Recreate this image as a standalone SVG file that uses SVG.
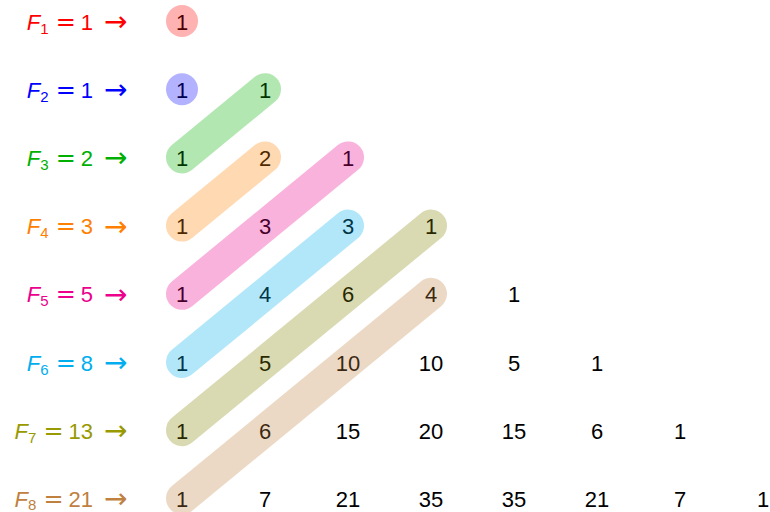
<svg xmlns="http://www.w3.org/2000/svg" width="770" height="512" viewBox="0 0 770 512">
<style>
.n{font-family:"Liberation Sans",Arial,sans-serif;font-size:22px;text-anchor:middle;fill:#000}
.lb{font-family:"Liberation Sans",Arial,sans-serif;font-size:22px;text-anchor:end}
.F{font-style:italic}
.s{font-size:15px;font-style:normal}
.eq{font-family:"DejaVu Sans",sans-serif;font-size:24px}
.ar{font-family:"DejaVu Sans",sans-serif;font-size:28px}
.pill{fill:none;stroke-width:32;stroke-linecap:round;stroke-opacity:0.3}
.dot{fill-opacity:0.3}
</style>
<rect width="770" height="512" fill="#fff"/>
<g id="labels">
<g id="label1" fill="#FF0000"><text class="lb" x="93" y="29.5"><tspan class="F">F</tspan><tspan class="s" dy="4">1</tspan><tspan class="eq" dy="-4" dx="7">=</tspan><tspan dx="5">1</tspan></text><text class="ar" x="104" y="31">→</text></g>
<g id="label2" fill="#0000FF"><text class="lb" x="93" y="97.7"><tspan class="F">F</tspan><tspan class="s" dy="4">2</tspan><tspan class="eq" dy="-4" dx="7">=</tspan><tspan dx="5">1</tspan></text><text class="ar" x="104" y="99.2">→</text></g>
<g id="label3" fill="#00B000"><text class="lb" x="93" y="165.9"><tspan class="F">F</tspan><tspan class="s" dy="4">3</tspan><tspan class="eq" dy="-4" dx="7">=</tspan><tspan dx="5">2</tspan></text><text class="ar" x="104" y="167.4">→</text></g>
<g id="label4" fill="#FF8000"><text class="lb" x="93" y="234.1"><tspan class="F">F</tspan><tspan class="s" dy="4">4</tspan><tspan class="eq" dy="-4" dx="7">=</tspan><tspan dx="5">3</tspan></text><text class="ar" x="104" y="235.6">→</text></g>
<g id="label5" fill="#EC008C"><text class="lb" x="93" y="302.3"><tspan class="F">F</tspan><tspan class="s" dy="4">5</tspan><tspan class="eq" dy="-4" dx="7">=</tspan><tspan dx="5">5</tspan></text><text class="ar" x="104" y="303.8">→</text></g>
<g id="label6" fill="#00AEEF"><text class="lb" x="93" y="370.5"><tspan class="F">F</tspan><tspan class="s" dy="4">6</tspan><tspan class="eq" dy="-4" dx="7">=</tspan><tspan dx="5">8</tspan></text><text class="ar" x="104" y="372">→</text></g>
<g id="label7" fill="#999900"><text class="lb" x="93" y="438.7"><tspan class="F">F</tspan><tspan class="s" dy="4">7</tspan><tspan class="eq" dy="-4" dx="7">=</tspan><tspan dx="5">13</tspan></text><text class="ar" x="104" y="440.2">→</text></g>
<g id="label8" fill="#BF8040"><text class="lb" x="93" y="506.9"><tspan class="F">F</tspan><tspan class="s" dy="3">8</tspan><tspan class="eq" dy="-3" dx="7">=</tspan><tspan dx="5">21</tspan></text><text class="ar" x="104" y="508.4">→</text></g>
</g>
<g id="triangle">
<g id="row1"><text class="n" x="182" y="29.5">1</text></g>
<g id="row2"><text class="n" x="182" y="97.7">1</text><text class="n" x="265" y="97.7">1</text></g>
<g id="row3"><text class="n" x="182" y="165.9">1</text><text class="n" x="265" y="165.9">2</text><text class="n" x="348" y="165.9">1</text></g>
<g id="row4"><text class="n" x="182" y="234.1">1</text><text class="n" x="265" y="234.1">3</text><text class="n" x="348" y="234.1">3</text><text class="n" x="431" y="234.1">1</text></g>
<g id="row5"><text class="n" x="182" y="302.3">1</text><text class="n" x="265" y="302.3">4</text><text class="n" x="348" y="302.3">6</text><text class="n" x="431" y="302.3">4</text><text class="n" x="514" y="302.3">1</text></g>
<g id="row6"><text class="n" x="182" y="370.5">1</text><text class="n" x="265" y="370.5">5</text><text class="n" x="348" y="370.5">10</text><text class="n" x="431" y="370.5">10</text><text class="n" x="514" y="370.5">5</text><text class="n" x="597" y="370.5">1</text></g>
<g id="row7"><text class="n" x="182" y="438.7">1</text><text class="n" x="265" y="438.7">6</text><text class="n" x="348" y="438.7">15</text><text class="n" x="431" y="438.7">20</text><text class="n" x="514" y="438.7">15</text><text class="n" x="597" y="438.7">6</text><text class="n" x="680" y="438.7">1</text></g>
<g id="row8"><text class="n" x="182" y="506.9">1</text><text class="n" x="265" y="506.9">7</text><text class="n" x="348" y="506.9">21</text><text class="n" x="431" y="506.9">35</text><text class="n" x="514" y="506.9">35</text><text class="n" x="597" y="506.9">21</text><text class="n" x="680" y="506.9">7</text><text class="n" x="763" y="506.9">1</text></g>
</g>
<g id="highlights">
<circle id="h1" class="dot" cx="182" cy="21" r="16" fill="#FF0000"/>
<circle id="h2" class="dot" cx="182" cy="89.2" r="16" fill="#0000FF"/>
<line id="h3" class="pill" x1="182" y1="157.4" x2="265" y2="89.2" stroke="#00B000"/>
<line id="h4" class="pill" x1="182" y1="225.6" x2="265" y2="157.4" stroke="#FF8000"/>
<line id="h5" class="pill" x1="182" y1="293.8" x2="348" y2="157.4" stroke="#EC008C"/>
<line id="h6" class="pill" x1="182" y1="362" x2="348" y2="225.6" stroke="#00AEEF"/>
<line id="h7" class="pill" x1="182" y1="430.2" x2="431" y2="225.6" stroke="#808000"/>
<line id="h8" class="pill" x1="182" y1="498.4" x2="431" y2="293.8" stroke="#BF8040"/>
</g>
</svg>
